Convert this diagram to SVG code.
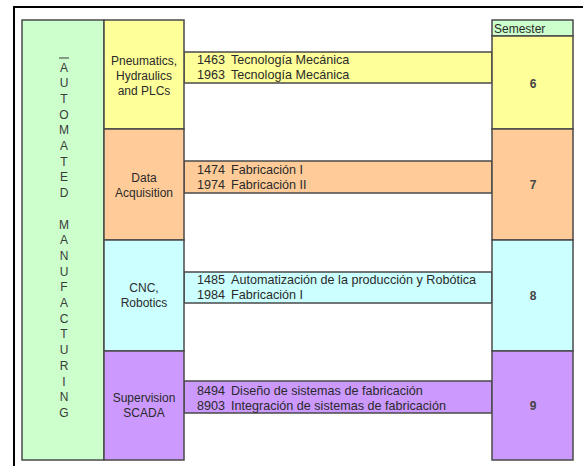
<svg xmlns="http://www.w3.org/2000/svg" width="583" height="466" viewBox="0 0 583 466">
<style>
.box{stroke:#4a4a4a;stroke-width:1.5}
.t{font-family:"Liberation Sans",Arial,sans-serif;font-size:12px;fill:#2a2a2a}
.k{font-size:12.6px}
.c{text-anchor:middle}
.n{font-weight:bold;fill:#444}
.v{font-family:"Liberation Sans",Arial,sans-serif;font-size:12px;fill:#3a3a3a;text-anchor:middle}
.y{fill:#FFFF99}.o{fill:#FFCC99}.cy{fill:#CCFFFF}.p{fill:#CC99FF}.g{fill:#CCFFCC}
</style>
<rect x="0" y="0" width="583" height="466" fill="#fff"/>
<rect x="14" y="7" width="600" height="480" fill="none" stroke="#000" stroke-width="2"/>

<g id="program">
<rect class="box g" x="22" y="20" width="82" height="440"/>
<line x1="59" y1="58" x2="69" y2="58" stroke="#3a3a3a" stroke-width="1"/>
<text class="v" x="64" y="71.5">A</text>
<text class="v" x="64" y="87.2">U</text>
<text class="v" x="64" y="102.9">T</text>
<text class="v" x="64" y="118.6">O</text>
<text class="v" x="64" y="134.3">M</text>
<text class="v" x="64" y="150">A</text>
<text class="v" x="64" y="165.7">T</text>
<text class="v" x="64" y="181.4">E</text>
<text class="v" x="64" y="197.1">D</text>
<text class="v" x="64" y="228.5">M</text>
<text class="v" x="64" y="244.2">A</text>
<text class="v" x="64" y="259.9">N</text>
<text class="v" x="64" y="275.6">U</text>
<text class="v" x="64" y="291.3">F</text>
<text class="v" x="64" y="307">A</text>
<text class="v" x="64" y="322.7">C</text>
<text class="v" x="64" y="338.4">T</text>
<text class="v" x="64" y="354.1">U</text>
<text class="v" x="64" y="369.8">R</text>
<text class="v" x="64" y="385.5">I</text>
<text class="v" x="64" y="401.2">N</text>
<text class="v" x="64" y="416.9">G</text>
</g>

<g id="connectors">
<rect class="box y" x="184" y="52" width="308" height="31"/>
<text class="t k" x="197" y="63.5">1463</text><text class="t k" x="231" y="63.5">Tecnología Mecánica</text>
<text class="t k" x="197" y="78.5">1963</text><text class="t k" x="231" y="78.5">Tecnología Mecánica</text>
<rect class="box o" x="184" y="161" width="308" height="32"/>
<text class="t k" x="197" y="173.5">1474</text><text class="t k" x="231" y="173.5">Fabricación I</text>
<text class="t k" x="197" y="188.5">1974</text><text class="t k" x="231" y="188.5">Fabricación II</text>
<rect class="box cy" x="184" y="272" width="308" height="31"/>
<text class="t k" x="197" y="283.5">1485</text><text class="t k" x="231" y="283.5">Automatización de la producción y Robótica</text>
<text class="t k" x="197" y="298.5">1984</text><text class="t k" x="231" y="298.5">Fabricación I</text>
<rect class="box p" x="184" y="381" width="308" height="32"/>
<text class="t k" x="197" y="394.5">8494</text><text class="t k" x="231" y="394.5">Diseño de sistemas de fabricación</text>
<text class="t k" x="197" y="409.5">8903</text><text class="t k" x="231" y="409.5">Integración de sistemas de fabricación</text>
</g>

<g id="area-pneumatics">
<rect class="box y" x="104" y="20" width="80" height="109"/>
<text class="t c" x="144" y="64.5">Pneumatics,</text>
<text class="t c" x="144" y="79.5">Hydraulics</text>
<text class="t c" x="144" y="94.5">and PLCs</text>
</g>
<g id="area-data">
<rect class="box o" x="104" y="129" width="80" height="111"/>
<text class="t c" x="144" y="181.5">Data</text>
<text class="t c" x="144" y="196.5">Acquisition</text>
</g>
<g id="area-cnc">
<rect class="box cy" x="104" y="240" width="80" height="111"/>
<text class="t c" x="144" y="291.5">CNC,</text>
<text class="t c" x="144" y="306.5">Robotics</text>
</g>
<g id="area-scada">
<rect class="box p" x="104" y="351" width="80" height="109"/>
<text class="t c" x="144" y="401.5">Supervision</text>
<text class="t c" x="144" y="416.5">SCADA</text>
</g>

<g id="semester-header">
<rect class="box g" x="492" y="20" width="81" height="16"/>
<text class="t" x="494" y="32.5">Semester</text>
</g>
<g id="sem6">
<rect class="box y" x="492" y="36" width="81" height="93"/>
<text class="t c n" x="533" y="87.5">6</text>
</g>
<g id="sem7">
<rect class="box o" x="492" y="129" width="81" height="111"/>
<text class="t c n" x="533" y="189">7</text>
</g>
<g id="sem8">
<rect class="box cy" x="492" y="240" width="81" height="111"/>
<text class="t c n" x="533" y="300">8</text>
</g>
<g id="sem9">
<rect class="box p" x="492" y="351" width="81" height="109"/>
<text class="t c n" x="533" y="409.5">9</text>
</g>
</svg>
